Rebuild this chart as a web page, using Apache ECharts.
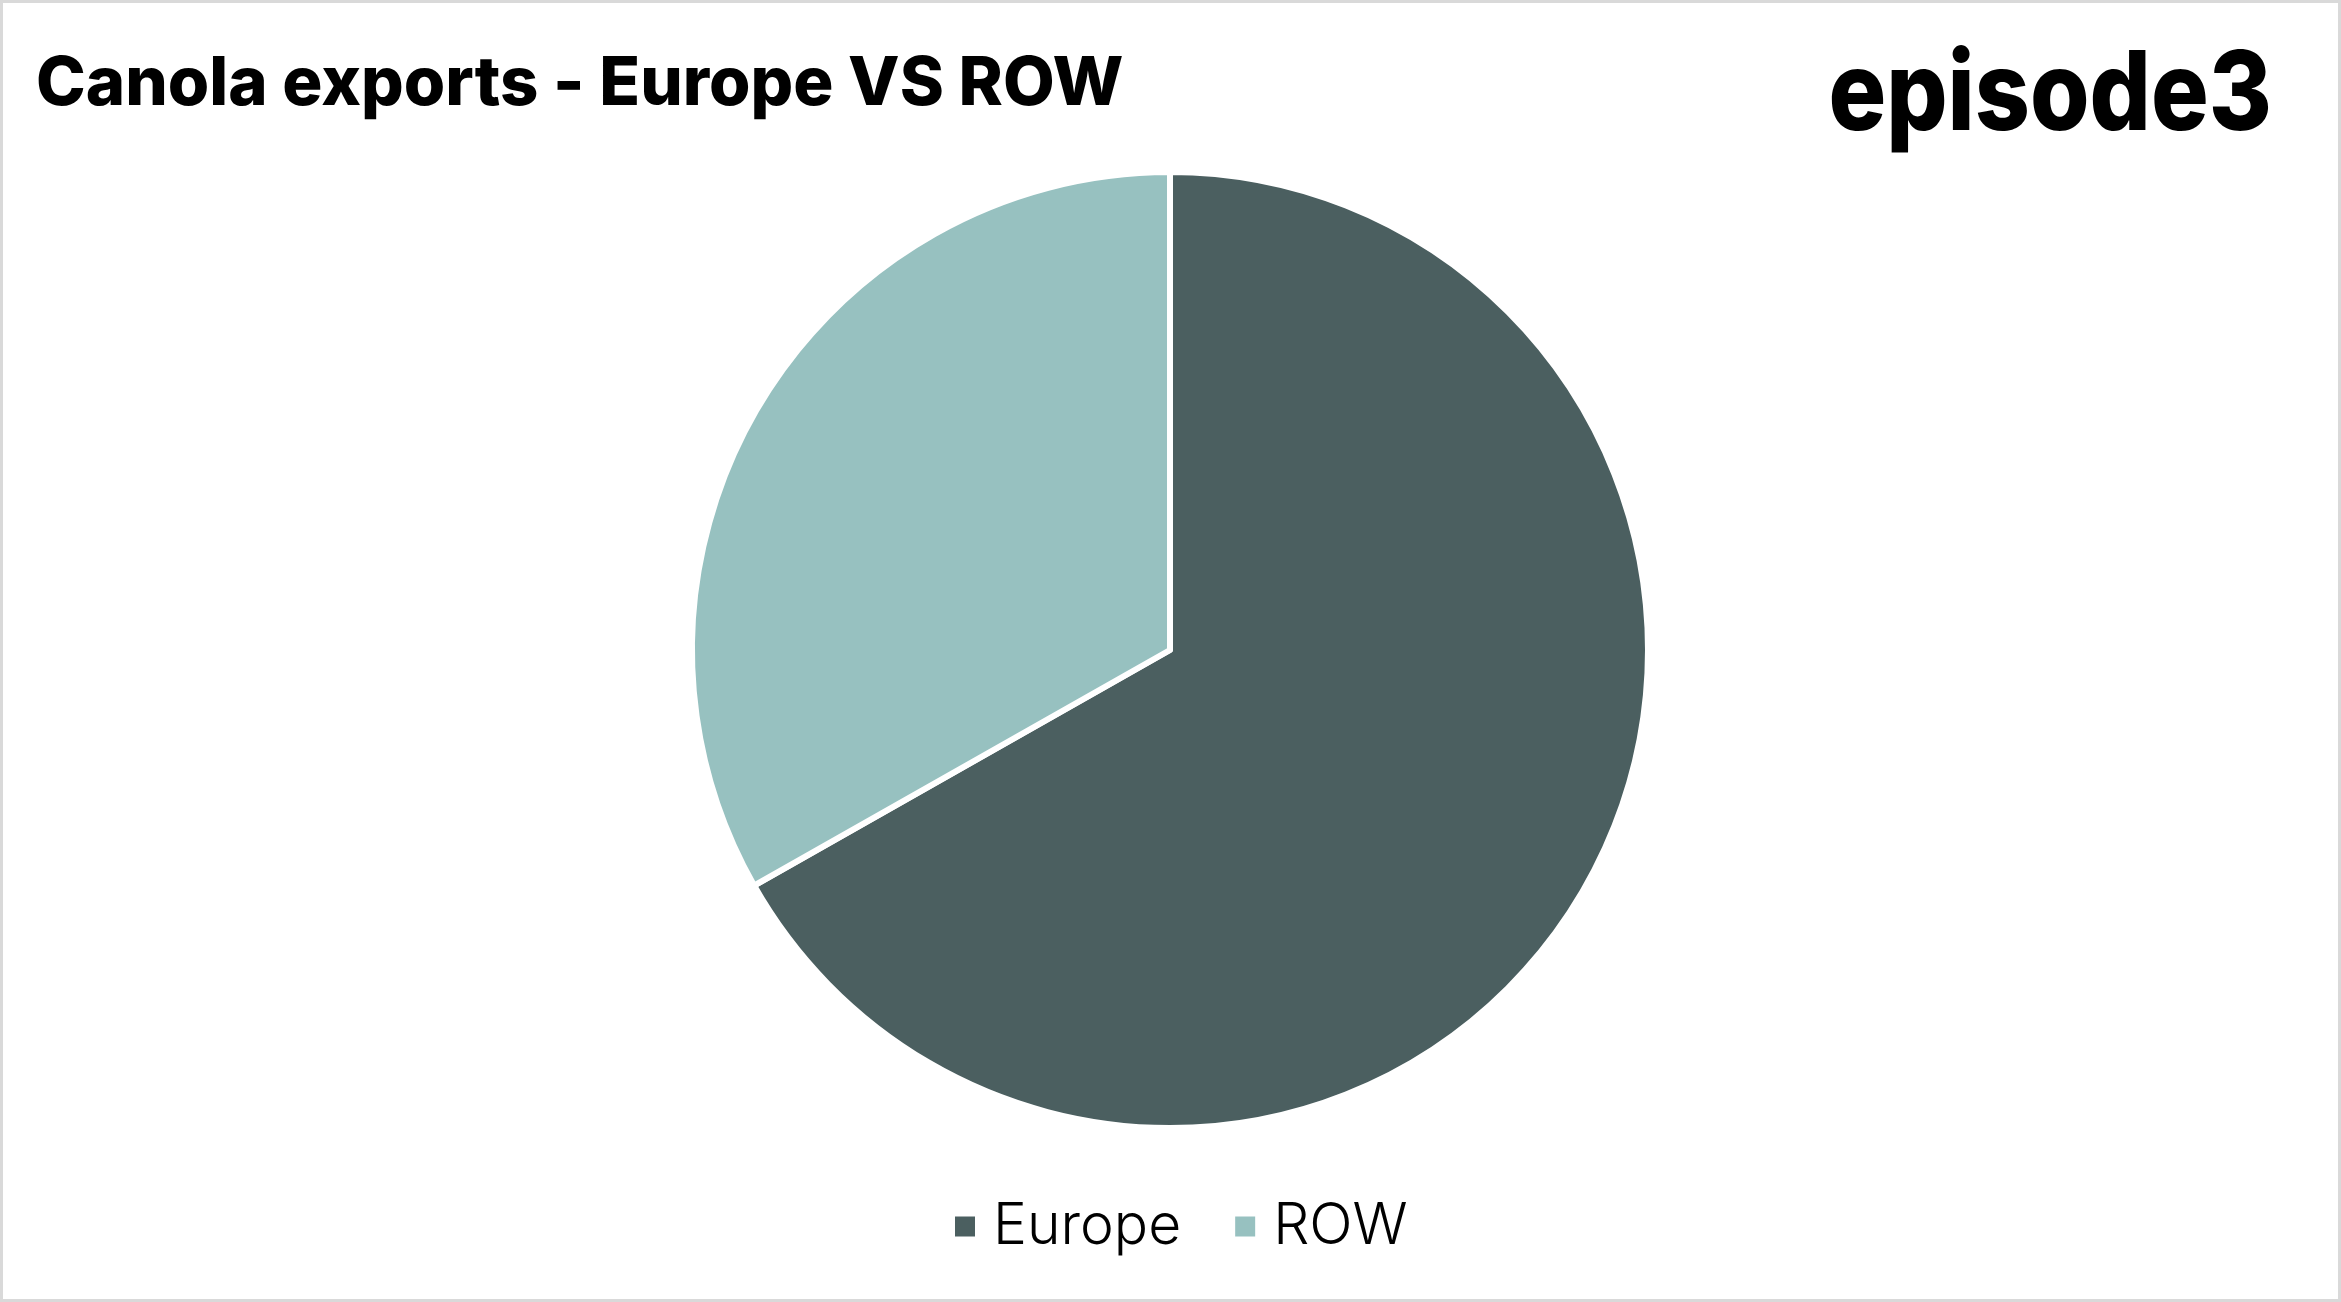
<!DOCTYPE html>
<html>
<head>
<meta charset="utf-8">
<title>Canola exports - Europe VS ROW</title>
<script src="https://cdn.jsdelivr.net/npm/echarts@6/dist/echarts.min.js"></script>
<style>
  html, body { margin: 0; padding: 0; background: #fff; }
  #main { width: 2341px; height: 1302px; }
</style>
</head>
<body>
<div id="main"></div>
<script>
// data
var regions = ["Europe", "ROW"];
var shares = [66.8, 33.2];
var sliceColors = ["#4b5f60", "#97c1c0"];

var chartDom = document.getElementById("main");
var myChart = echarts.init(chartDom);

var option = {
  backgroundColor: "#ffffff",
  color: sliceColors,
  title: {
    text: "Canola exports - Europe VS ROW",
    left: 31,
    top: 46,
    textStyle: {
      fontFamily: "Inter",
      fontWeight: 800,
      fontSize: 67,
      color: "#000"
    }
  },
  legend: {
    data: regions,
    left: 948,
    top: 1193,
    icon: "rect",
    itemWidth: 22,
    itemHeight: 22,
    itemGap: 52,
    textStyle: {
      fontFamily: "Inter",
      fontWeight: 300,
      fontSize: 57,
      color: "#000",
      padding: [0, 0, 0, 12]
    }
  },
  graphic: [
    {
      type: "rect",
      silent: true,
      shape: { x: 1.5, y: 1.5, width: 2338, height: 1299 },
      style: { fill: null, stroke: "#d9d9d9", lineWidth: 3 }
    },
    {
      // logo
      type: "text",
      x: 2272,
      y: 97,
      scaleX: 0.875,
      style: {
        text: "episode3",
        font: "800 110px Inter",
        fill: "#000",
        align: "right",
        verticalAlign: "middle"
      }
    }
  ],
  series: [
    {
      name: "Canola exports",
      type: "pie",
      center: [1170, 650],
      radius: 478,
      startAngle: 90,
      clockwise: true,
      label: { show: false },
      labelLine: { show: false },
      itemStyle: {
        borderColor: "#ffffff",
        borderWidth: 6
      },
      data: regions.map(function (name, i) {
        return { name: name, value: shares[i] };
      })
    }
  ]
};

myChart.setOption(option);
</script>
</body>
</html>
